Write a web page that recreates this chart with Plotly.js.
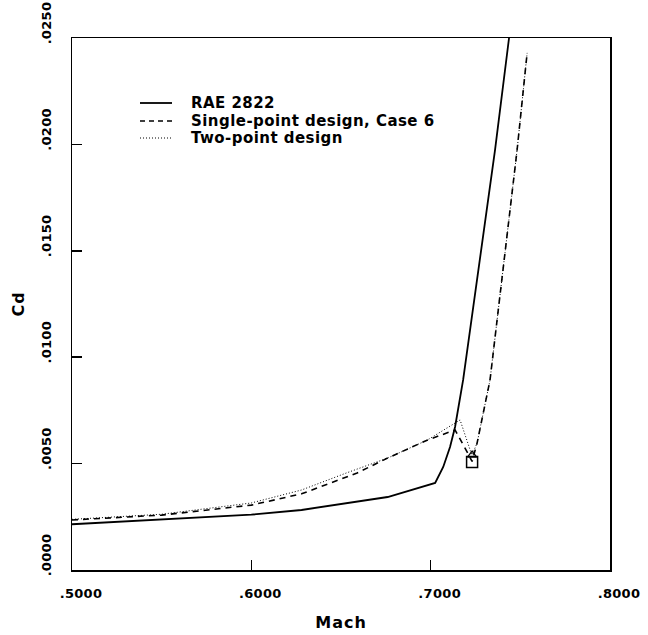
<!DOCTYPE html>
<html>
<head>
<meta charset="utf-8">
<script src="https://cdn.plot.ly/plotly-3.0.1.min.js"></script>
<style>
html, body { margin: 0; padding: 0; background: #fff; }
#chart { width: 648px; height: 635px; }
.annotation-text { letter-spacing: 0.45px; }
.xtick text, .ytick text { letter-spacing: 0.3px; }
.xtitle, .ytitle { letter-spacing: 1px; }
</style>
</head>
<body>
<div id="chart"></div>
<script>
// RAE 2822 (solid)
const raeMach = [0.500, 0.550, 0.600, 0.628, 0.676, 0.7025, 0.7052, 0.7070, 0.7108, 0.7136, 0.7181, 0.7359, 0.7437];
const raeCd   = [0.00215, 0.00238, 0.00260, 0.00282, 0.00343, 0.00409, 0.00450, 0.00484, 0.00578, 0.00672, 0.00893, 0.01974, 0.02500];

// Single-point design, Case 6 (dashed)
const spMach = [0.500, 0.550, 0.600, 0.628, 0.659, 0.676, 0.698, 0.7136, 0.7203, 0.7231, 0.7259, 0.7331, 0.7482, 0.7538];
const spCd   = [0.00235, 0.00258, 0.00305, 0.00358, 0.00456, 0.00526, 0.00610, 0.00658, 0.00555, 0.00510, 0.00597, 0.00893, 0.01974, 0.02430];

// Two-point design (dotted)
const tpMach = [0.500, 0.550, 0.600, 0.628, 0.653, 0.676, 0.698, 0.7164, 0.7220, 0.7231, 0.7259, 0.7331, 0.7482, 0.7538];
const tpCd   = [0.00238, 0.00262, 0.00315, 0.00376, 0.00456, 0.00526, 0.00610, 0.00705, 0.00564, 0.00540, 0.00597, 0.00893, 0.01974, 0.02430];

// Design points
const spPointMach = [0.7231];
const spPointCd   = [0.00508];
const tpPointMach = [0.7231];
const tpPointCd   = [0.00540];

const xTickVals = [0.5, 0.6, 0.7, 0.8];
const xTickText = ['.5000', '.6000', '.7000', '.8000'];
const yTickVals = [0, 0.005, 0.010, 0.015, 0.020, 0.025];
const yTickText = ['.0000', '.0050', '.0100', '.0150', '.0200', '.0250'];

const legendNames = ['RAE 2822', 'Single-point design, Case 6', 'Two-point design'];

const FONT = 'DejaVu Sans, Liberation Sans, sans-serif';

const traces = [
  { x: raeMach, y: raeCd, mode: 'lines', name: legendNames[0],
    line: { color: '#000', width: 1.8 } },
  { x: spMach, y: spCd, mode: 'lines', name: legendNames[1],
    line: { color: '#000', width: 1.6, dash: '6px,5px' } },
  { x: tpMach, y: tpCd, mode: 'lines', name: legendNames[2],
    line: { color: '#000', width: 1, dash: '1px,2px' } },
  { x: spPointMach, y: spPointCd, mode: 'markers', name: 'Single-point design point',
    marker: { symbol: 'square-open', size: 11, color: '#000', line: { width: 1.5, color: '#000' } } },
  { x: tpPointMach, y: tpPointCd, mode: 'markers', name: 'Two-point design point',
    marker: { symbol: 'triangle-up-open', size: 8, color: '#000', line: { width: 1.3, color: '#000' } } }
];

// manual legend placement (plot area: x 72..610, y 38..570 px)
function px2paperX(px) { return (px - 72) / 538; }
function px2paperY(py) { return (570 - py) / 532; }
const legRows = [103, 121, 138];
const legDash = ['solid', '5px,4px', '1px,2px'];
const legWidth = [1.8, 1.6, 1];
const shapes = [];
const annotations = [];
legendNames.forEach((nm, i) => {
  shapes.push({ type: 'line', xref: 'paper', yref: 'paper',
    x0: px2paperX(140), x1: px2paperX(172), y0: px2paperY(legRows[i]), y1: px2paperY(legRows[i]),
    line: { color: '#000', width: legWidth[i], dash: legDash[i] } });
  annotations.push({ xref: 'paper', yref: 'paper', x: px2paperX(189), y: px2paperY(legRows[i]),
    xanchor: 'left', yanchor: 'middle', text: nm, showarrow: false,
    font: { family: FONT, size: 15, color: '#000', weight: 'bold' } });
});

const layout = {
  width: 648, height: 635,
  margin: { l: 72, r: 38, t: 38, b: 65 },
  paper_bgcolor: '#fff', plot_bgcolor: '#fff',
  showlegend: false,
  font: { family: FONT, color: '#000' },
  xaxis: {
    range: [0.5, 0.8], tickvals: xTickVals, ticktext: xTickText,
    ticks: 'inside', ticklen: 10, tickwidth: 1.5, tickcolor: '#000',
    showline: true, mirror: true, linecolor: '#000', linewidth: 1.5,
    showgrid: false, zeroline: false, ticklabeloverflow: 'allow',
    tickfont: { family: FONT, size: 13, color: '#000', weight: 'bold' },
    ticklabelshift: 9, ticklabelstandoff: 11,
    title: { text: 'Mach', font: { family: FONT, size: 16, color: '#000', weight: 'bold' }, standoff: 16 }
  },
  yaxis: {
    range: [0, 0.025], tickvals: yTickVals, ticktext: yTickText,
    ticks: 'inside', ticklen: 10, tickwidth: 1.5, tickcolor: '#000',
    showline: true, mirror: true, linecolor: '#000', linewidth: 1.5,
    showgrid: false, zeroline: false, tickangle: -90, ticklabeloverflow: 'allow',
    tickfont: { family: FONT, size: 13, color: '#000', weight: 'bold' },
    ticklabelshift: -13, ticklabelstandoff: 14,
    title: { text: 'Cd', font: { family: FONT, size: 16, color: '#000', weight: 'bold' }, standoff: 10 }
  },
  shapes: shapes,
  annotations: annotations
};

Plotly.newPlot('chart', traces, layout, { displayModeBar: false, staticPlot: true });
</script>
</body>
</html>
